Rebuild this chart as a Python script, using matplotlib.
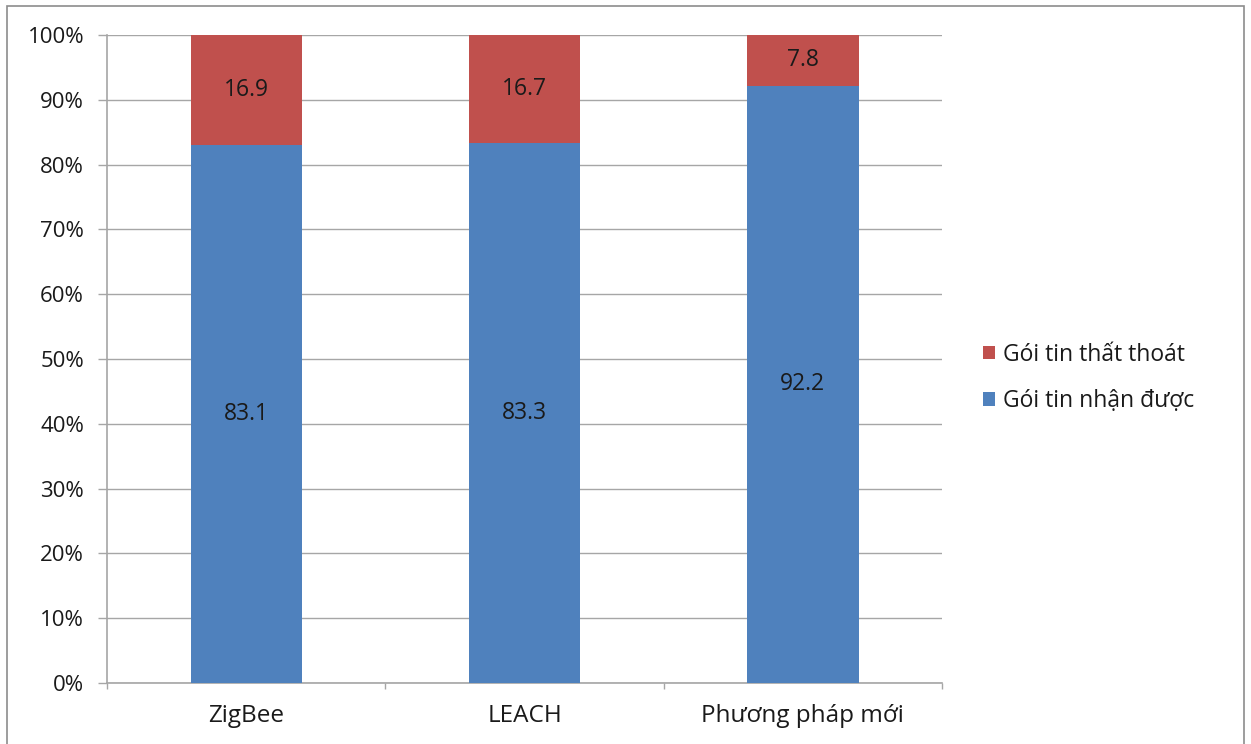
import matplotlib
matplotlib.use("Agg")
import matplotlib.pyplot as plt
from matplotlib.patches import Rectangle
import numpy as np

categories = ["ZigBee", "LEACH", "Phương pháp mới"]
received = [83.1, 83.3, 92.2]
lost = [16.9, 16.7, 7.8]
series_names = ["Gói tin nhận được", "Gói tin thất thoát"]
yticks = [0, 10, 20, 30, 40, 50, 60, 70, 80, 90, 100]

plt.rcParams['font.family'] = ['Open Sans', 'DejaVu Sans']

W, H = 1251, 744
fig = plt.figure(figsize=(W / 100, H / 100), dpi=100)
ax = fig.add_axes([107 / W, 1 - 683 / H, (942 - 107) / W, (683 - 35) / H])

blue = "#4F81BD"
red = "#C0504D"
gridc = "#A6A6A6"
txt = "#1a1a1a"

x = np.arange(len(categories))
b1 = ax.bar(x, received, width=0.40, color=blue, zorder=3, label=series_names[0])
b2 = ax.bar(x, lost, width=0.40, bottom=received, color=red, zorder=3, label=series_names[1])

for i in range(len(categories)):
    ax.text(x[i], received[i] / 2, f"{received[i]:.1f}", ha="center", va="center",
            fontsize=16.5, color=txt, zorder=4)
    ax.text(x[i], received[i] + lost[i] / 2, f"{lost[i]:.1f}", ha="center", va="center",
            fontsize=16.5, color=txt, zorder=4)

ax.set_xlim(-0.5, len(categories) - 0.5)
ax.set_ylim(0, 100)
ax.set_yticks(yticks)
ax.set_yticklabels([f"{t}%" for t in yticks], fontsize=16, color=txt)
ax.yaxis.grid(True, color=gridc, linewidth=1, zorder=0)
ax.tick_params(axis="y", length=6.5, color=gridc, width=1, pad=10)

ax.set_xticks(x)
ax.set_xticklabels(categories, fontsize=17.5, color=txt)
ax.tick_params(axis="x", length=0, pad=15)
ax.set_xticks([-0.5, 0.5, 1.5, 2.5], minor=True)
ax.tick_params(axis="x", which="minor", length=4.3, color=gridc, width=1)

for s in ["top", "right"]:
    ax.spines[s].set_visible(False)
for s in ["left", "bottom"]:
    ax.spines[s].set_color(gridc)
    ax.spines[s].set_linewidth(1.2)

handles = [b2, b1]
labels = [series_names[1], series_names[0]]
fig.legend(handles, labels, loc="center left", bbox_to_anchor=(962 / W, 1 - 378 / H),
           frameon=False, fontsize=16.5, handlelength=0.55, handleheight=0.55,
           handletextpad=0.35, labelspacing=1.0, labelcolor=txt)

fig.patches.append(Rectangle((7 / W, -0.05), (1244 - 7) / W, 1.05 - 6 / H,
                             transform=fig.transFigure, fill=False,
                             edgecolor="#8C8C8C", linewidth=1.2))

fig.savefig("out.png", dpi=100)
